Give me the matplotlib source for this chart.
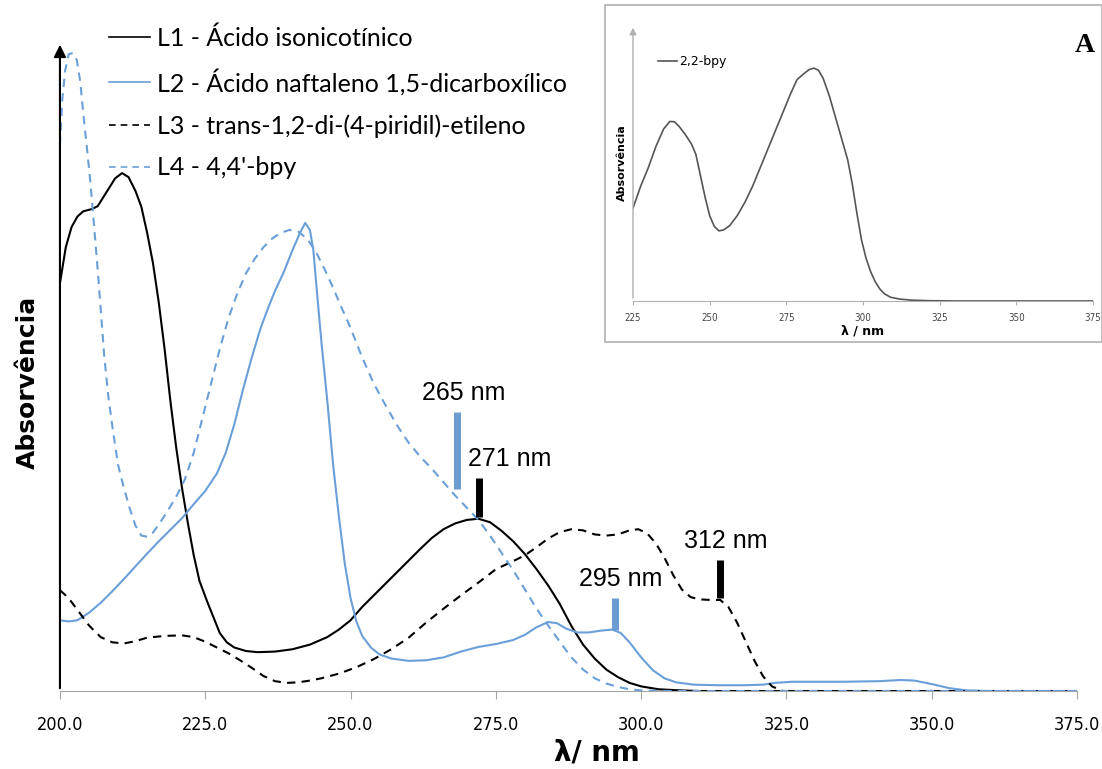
import matplotlib
matplotlib.use("Agg")
import matplotlib.pyplot as plt
from matplotlib.lines import Line2D
from matplotlib.patches import Rectangle

# ---- data (wavelength nm, absorbance a.u.) ----
l1_x = [200, 201, 202, 203, 204, 205.5, 206.5, 207.5, 208.5, 209.5, 210.7, 211.8, 213, 214, 215, 216,
        217, 218, 219, 220, 221, 222, 223, 224, 225.3, 226.5, 227.5, 228.7, 230, 232, 234, 237, 240,
        243, 246, 248, 250, 252, 254, 256, 258, 260, 262, 264, 266, 268, 270, 272, 274, 276, 278,
        280, 282, 284, 286, 288, 290, 292, 294, 296, 298, 300, 303, 307, 310, 375]
l1_y = [0.703, 0.765, 0.80, 0.818, 0.827, 0.831, 0.836, 0.852, 0.868, 0.884, 0.893, 0.886, 0.862,
        0.835, 0.79, 0.738, 0.67, 0.59, 0.50, 0.42, 0.35, 0.29, 0.235, 0.19, 0.155, 0.125, 0.10,
        0.084, 0.075, 0.069, 0.067, 0.068, 0.072, 0.08, 0.093, 0.106, 0.122, 0.145, 0.165, 0.185,
        0.205, 0.225, 0.245, 0.264, 0.279, 0.289, 0.295, 0.297, 0.291, 0.276, 0.258, 0.236, 0.21,
        0.182, 0.15, 0.112, 0.08, 0.056, 0.037, 0.024, 0.014, 0.008, 0.003, 0.001, 0.0, 0.0]

l2_x = [200, 201.5, 203, 205, 207, 209, 211, 213, 215, 217, 219, 221, 223, 225, 227, 228.5, 230,
        231.5, 233, 234.5, 235.8, 237, 238.5, 240, 241.3, 242.2, 243, 243.6, 244.2, 245, 246, 247,
        248, 249, 250, 251, 252, 253.5, 255, 257, 260, 263, 266, 269, 272, 275, 278, 280, 282, 284,
        285.5, 287, 289, 291, 293, 295, 296.5, 298, 300, 302, 304, 306, 309, 313, 318, 321, 323,
        326, 335, 341, 344.6, 347, 350, 353, 356, 360, 375]
l2_y = [0.122, 0.12, 0.122, 0.135, 0.152, 0.172, 0.193, 0.215, 0.237, 0.258, 0.278, 0.298, 0.322,
        0.345, 0.375, 0.41, 0.46, 0.52, 0.575, 0.625, 0.66, 0.69, 0.722, 0.76, 0.79, 0.807, 0.795,
        0.76, 0.69, 0.60, 0.50, 0.39, 0.30, 0.22, 0.16, 0.12, 0.095, 0.075, 0.063, 0.056, 0.052,
        0.053, 0.058, 0.068, 0.076, 0.081, 0.088, 0.097, 0.11, 0.119, 0.117, 0.108, 0.101, 0.101,
        0.104, 0.106, 0.10, 0.084, 0.058, 0.036, 0.022, 0.015, 0.011, 0.010, 0.010, 0.011, 0.014,
        0.016, 0.016, 0.017, 0.019, 0.018, 0.012, 0.005, 0.001, 0.0, 0.0]

l3_x = [200, 201.5, 203, 205, 207, 209, 211, 213, 215, 218, 221, 223, 225, 227, 229, 231, 233, 235,
        237, 239, 241, 243, 245, 248, 251, 254, 257, 260, 263, 266, 269, 272, 275, 278, 280, 282,
        284, 286, 288, 290, 292, 294, 296, 298, 299.5, 301, 302.5, 304, 305.5, 307, 308.5, 310, 312,
        313.6, 315, 316.5, 318, 319.5, 321, 322.5, 324.4, 375]
l3_y = [0.174, 0.16, 0.14, 0.113, 0.093, 0.084, 0.082, 0.086, 0.092, 0.095, 0.096, 0.093, 0.085,
        0.075, 0.065, 0.053, 0.04, 0.026, 0.017, 0.014, 0.015, 0.018, 0.022, 0.03, 0.041, 0.055,
        0.072, 0.092, 0.118, 0.142, 0.165, 0.187, 0.21, 0.224, 0.234, 0.248, 0.263, 0.274, 0.279,
        0.277, 0.270, 0.268, 0.27, 0.277, 0.279, 0.272, 0.255, 0.23, 0.2, 0.175, 0.162, 0.158,
        0.157, 0.157, 0.145, 0.118, 0.085, 0.052, 0.025, 0.008, 0.0, 0.0]

l4_x = [200, 200.4, 200.9, 201.5, 202.2, 202.9, 203.5, 204, 204.6, 205.2, 205.8, 206.4, 207, 207.6,
        208.3, 209.1, 210, 211, 212, 213, 214, 215, 216, 217.2, 218.5, 220, 221.5, 223, 224.5, 226,
        227.5, 229, 230.5, 232, 233.5, 235, 236.5, 238, 239.5, 241, 242.5, 244, 245.5, 247, 248.5,
        250, 252, 254, 256, 258, 260, 262, 264, 266, 268, 270, 272, 274, 276, 278, 280, 282, 284,
        286, 288, 290, 292, 294, 296, 298, 300, 305, 375]
l4_y = [0.941, 1.02, 1.07, 1.098, 1.10, 1.088, 1.05, 0.997, 0.94, 0.881, 0.81, 0.738, 0.66, 0.58,
        0.51, 0.45, 0.39, 0.35, 0.315, 0.285, 0.268, 0.266, 0.273, 0.29, 0.31, 0.335, 0.365, 0.41,
        0.47, 0.53, 0.59, 0.643, 0.685, 0.72, 0.745, 0.765, 0.78, 0.79, 0.795, 0.792, 0.78, 0.758,
        0.728, 0.695, 0.66, 0.626, 0.575, 0.53, 0.493, 0.458, 0.428, 0.404, 0.383, 0.36, 0.337,
        0.316, 0.295, 0.268, 0.238, 0.208, 0.175, 0.142, 0.113, 0.085, 0.058, 0.037, 0.022, 0.013,
        0.007, 0.003, 0.001, 0.0, 0.0]

labels = ["L1 - Ácido isonicotínico", "L2 - Ácido naftaleno 1,5-dicarboxílico",
          "L3 - trans-1,2-di-(4-piridil)-etileno", "L4 - 4,4'-bpy"]

# marked bands: label, bar x, bar bottom, bar top, label x, colour
band_text = ["265 nm", "271 nm", "295 nm", "312 nm"]
band_x = [268.3, 272.1, 295.5, 313.6]
band_lo = [0.348, 0.300, 0.105, 0.160]
band_hi = [0.481, 0.367, 0.160, 0.226]
band_tx = [269.5, 277.3, 296.5, 314.5]
band_col = ["#6a9bd1", "black", "#6a9bd1", "black"]

xticks = [200, 225, 250, 275, 300, 325, 350, 375]

# inset: 2,2-bpy
bpy_x = [225, 227.5, 230, 232.5, 235, 237, 238.5, 240, 242, 244, 245.5, 247, 248.5, 250, 251.5, 253,
         254.5, 256.5, 259, 261.5, 264, 266.5, 269, 271.5, 274, 276.5, 278.5, 280.5, 282.5, 284,
         285.5, 287, 289, 291, 293, 295, 296.5, 298, 299.5, 301, 302.5, 304, 305.5, 307, 309, 312,
         316, 322, 330, 375]
bpy_y = [0.348, 0.43, 0.50, 0.58, 0.645, 0.673, 0.672, 0.655, 0.625, 0.59, 0.55, 0.47, 0.39, 0.32,
         0.28, 0.263, 0.266, 0.282, 0.32, 0.37, 0.43, 0.50, 0.57, 0.64, 0.71, 0.78, 0.83, 0.85,
         0.868, 0.873, 0.865, 0.835, 0.77, 0.69, 0.61, 0.53, 0.44, 0.33, 0.23, 0.16, 0.11, 0.072,
         0.045, 0.027, 0.014, 0.007, 0.003, 0.001, 0.0, 0.0]
inset_ticks = [225, 250, 275, 300, 325, 350, 375]

blue = "#6a9fd8"

fig = plt.figure(figsize=(11.02, 7.69), dpi=100)
ax = fig.add_axes([0.0544, 0.1014, 0.923, 0.844])

ax.plot(l1_x, l1_y, color="black", lw=1.5)
ax.plot(l2_x, l2_y, color=blue, lw=1.5)
ax.plot(l3_x, l3_y, color="black", lw=1.5, ls=(0, (4, 3)))
ax.plot(l4_x, l4_y, color=blue, lw=1.5, ls=(0, (4, 3)))

for t, x, lo, hi, tx, c in zip(band_text, band_x, band_lo, band_hi, band_tx, band_col):
    ax.plot([x, x], [lo, hi], color=c, lw=5, solid_capstyle="butt")
    ax.text(tx, hi + 0.012, t, ha="center", va="bottom", fontsize=18, family="Liberation Sans")

ax.set_xlim(200, 375)
ax.set_ylim(0, 1.119)
ax.set_xticks(xticks)
ax.set_xticklabels([f"{v:.1f}" for v in xticks], family="DejaVu Sans", stretch="condensed",
                   fontsize=13)
ax.set_yticks([])
for s in ["top", "right", "left"]:
    ax.spines[s].set_visible(False)
ax.spines["bottom"].set_color("#a6a6a6")
ax.tick_params(axis="x", direction="out", length=6, color="#a6a6a6", pad=12)
ax.annotate("", xy=(0, 1.0), xycoords="axes fraction", xytext=(0, 0), textcoords="axes fraction",
            arrowprops=dict(arrowstyle="-|>", color="black", lw=1.5, mutation_scale=18))
ax.set_xlabel("λ/ nm", fontsize=20, fontweight="bold")
ax.set_ylabel("Absorvência", fontsize=18, fontweight="bold")
ax.xaxis.set_label_coords(0.528, -0.073)
ax.yaxis.set_label_coords(-0.02, 0.475)

handles = [Line2D([], [], color="black", lw=1.2),
           Line2D([], [], color=blue, lw=1.2),
           Line2D([], [], color="black", lw=1.2, ls=(0, (4, 3))),
           Line2D([], [], color=blue, lw=1.2, ls=(0, (4, 3)))]
ax.legend(handles, labels, loc="upper left", bbox_to_anchor=(0.038, 1.04), frameon=False,
          prop={"family": "Lato", "size": 18}, handlelength=1.64, handletextpad=0.28,
          labelspacing=0.75, borderaxespad=0)

# inset panel
fig.patches.append(Rectangle((605 / 1102, 1 - 342 / 769), 497 / 1102, 337 / 769,
                             transform=fig.transFigure, fill=False, edgecolor="#b0b0b0", lw=1.2))
ins = fig.add_axes([0.5744, 0.6086, 0.4174, 0.359])
ins.plot(bpy_x, bpy_y, color="#555555", lw=1.2, label="2,2-bpy")
ins.set_xlim(225, 375)
ins.set_ylim(0, 1.035)
ins.set_xticks(inset_ticks)
ins.set_xticklabels([str(v) for v in inset_ticks], family="DejaVu Sans", stretch="condensed",
                    fontsize=7, color="#444444")
ins.set_yticks([])
for s in ["top", "right", "left"]:
    ins.spines[s].set_visible(False)
ins.spines["bottom"].set_color("#b0b0b0")
ins.tick_params(axis="x", direction="out", length=3, color="#b0b0b0", pad=6)
ins.annotate("", xy=(0, 1.0), xycoords="axes fraction", xytext=(0, 0), textcoords="axes fraction",
             arrowprops=dict(arrowstyle="-|>", color="#b0b0b0", lw=1.0, mutation_scale=10))
ins.set_xlabel("λ / nm", fontsize=9, fontweight="bold", labelpad=1)
ins.set_ylabel("Absorvência", fontsize=8, fontweight="bold", labelpad=4)
ins.legend(loc="upper left", bbox_to_anchor=(0.03, 0.93), frameon=False, fontsize=9,
           handlelength=1.5, handletextpad=0.2)
fig.text(1085 / 1102, 1 - 45 / 769, "A", fontsize=20, fontweight="bold", family="Liberation Serif",
         ha="center", va="center")

fig.savefig("out.png", dpi=100)
